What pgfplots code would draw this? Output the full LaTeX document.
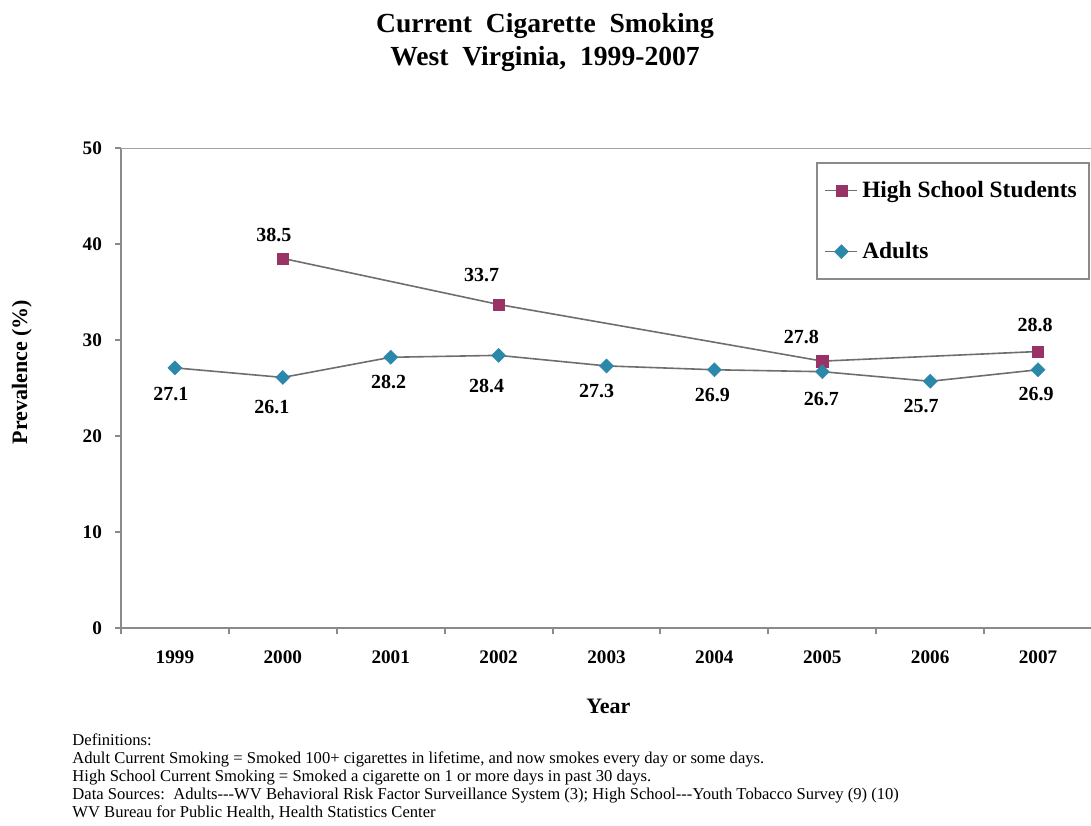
\documentclass[border=0pt]{standalone}
\usepackage{fontspec}
\setmainfont{Liberation Serif}
\usepackage{pgfplots}
\pgfplotsset{compat=1.18}
\definecolor{hscolor}{HTML}{993366}
\definecolor{adcolor}{HTML}{2B88AA}
\definecolor{linegray}{HTML}{6E6E6E}
\definecolor{axgray}{HTML}{8A8A8A}

\begin{document}
\begin{tikzpicture}[x=1pt,y=1pt]
\path[use as bounding box] (0,0) rectangle (545.5,412.5);

% title
\node[align=center, font=\fontsize{13.8}{16.5}\selectfont\bfseries] at (272.5,391.5)
  {Current\ \ Cigarette\ \ Smoking\\West\ \ Virginia,\ \ 1999-2007};

\begin{axis}[
  at={(60.5pt,98.5pt)}, anchor=south west,
  scale only axis, width=485.5pt, height=240pt,
  xmin=-0.5, xmax=8.5, ymin=0, ymax=50,
  axis x line*=bottom, axis y line*=left,
  axis line style={draw=axgray, line width=1.3pt, -},
  /pgf/number format/assume math mode=true,
  ytick={0,10,...,50},
  xtick={0,...,8},
  xticklabels={1999,2000,2001,2002,2003,2004,2005,2006,2007},
  minor xtick={-0.5,0.5,...,8.5},
  tick align=outside,
  major tick length=3pt, minor tick length=3pt,
  major x tick style={draw=none},
  tick style={draw=axgray, line width=1pt},
  ticklabel style={font=\fontsize{9.6}{11}\selectfont\bfseries},
  xticklabel style={yshift=-5pt},
  yticklabel style={xshift=-3pt},
  xlabel={Year}, ylabel={Prevalence (\%)},
  label style={font=\fontsize{11}{13}\selectfont\bfseries},
  xlabel style={at={(axis description cs:0.502,-0.1625)}, anchor=center},
  ylabel style={at={(axis description cs:-0.102,0.533)}, anchor=center, rotate=0},
  legend style={at={(0.7155,0.971)}, anchor=north west, draw=axgray, line width=0.9pt,
    font=\fontsize{11.7}{13}\selectfont\bfseries, inner xsep=4pt, inner ysep=7pt,
    row sep=17pt, cells={anchor=west}},
  legend image code/.code={\draw[mark repeat=2,mark phase=2] plot coordinates {(0pt,0pt) (8pt,0pt) (16pt,0pt)};},
  point meta=y,
  nodes near coords={\pgfmathprintnumber[fixed,fixed zerofill,precision=1]{\pgfplotspointmeta}},
  every node near coord/.append style={anchor=center, font=\fontsize{10}{12}\selectfont\bfseries, text=black},
  visualization depends on={\thisrow{dx}\as\dx},
  visualization depends on={\thisrow{dy}\as\dy},
  every node near coord/.append style={xshift=\dx, yshift=\dy},
]

% high school students
\addplot[linegray, line width=0.8pt, mark=square*, mark size=2.8pt,
  mark options={fill=hscolor, draw=hscolor, line width=0.2pt}] table {
x y dx dy
1 38.5 -4.5 11.5
3 33.7 -8.5 14.5
6 27.8 -10.5 12
8 28.8 -1.5 13.5
};
\addlegendentry{High School Students}

% adults
\addplot[linegray, line width=0.8pt, mark=square*, mark size=2.5pt,
  mark options={rotate=45, fill=adcolor, draw=adcolor, line width=0.2pt}] table {
x y dx dy
0 27.1 -2 -13
1 26.1 -5.5 -15
2 28.2 -1 -12.5
3 28.4 -6 -15.5
4 27.3 -5 -12.5
5 26.9 -1 -12.5
6 26.7 -0.5 -13.5
7 25.7 -4.5 -12.5
8 26.9 -1 -12
};
\addlegendentry{Adults}

\draw[axgray!80, line width=1pt] (rel axis cs:0,1) -- (rel axis cs:1,1);
\end{axis}

% notes under the chart
\node[anchor=north west, align=left, inner sep=0pt,
  font=\fontsize{8.3}{9}\selectfont] at (36,46) {%
Definitions:\\
Adult Current Smoking = Smoked 100+ cigarettes in lifetime, and now smokes every day or some days.\\
High School Current Smoking = Smoked a cigarette on 1 or more days in past 30 days.\\
Data Sources:\ \ Adults-{}-{}-WV Behavioral Risk Factor Surveillance System (3); High School-{}-{}-Youth Tobacco Survey (9) (10)\\
WV Bureau for Public Health, Health Statistics Center};
\end{tikzpicture}
\end{document}
